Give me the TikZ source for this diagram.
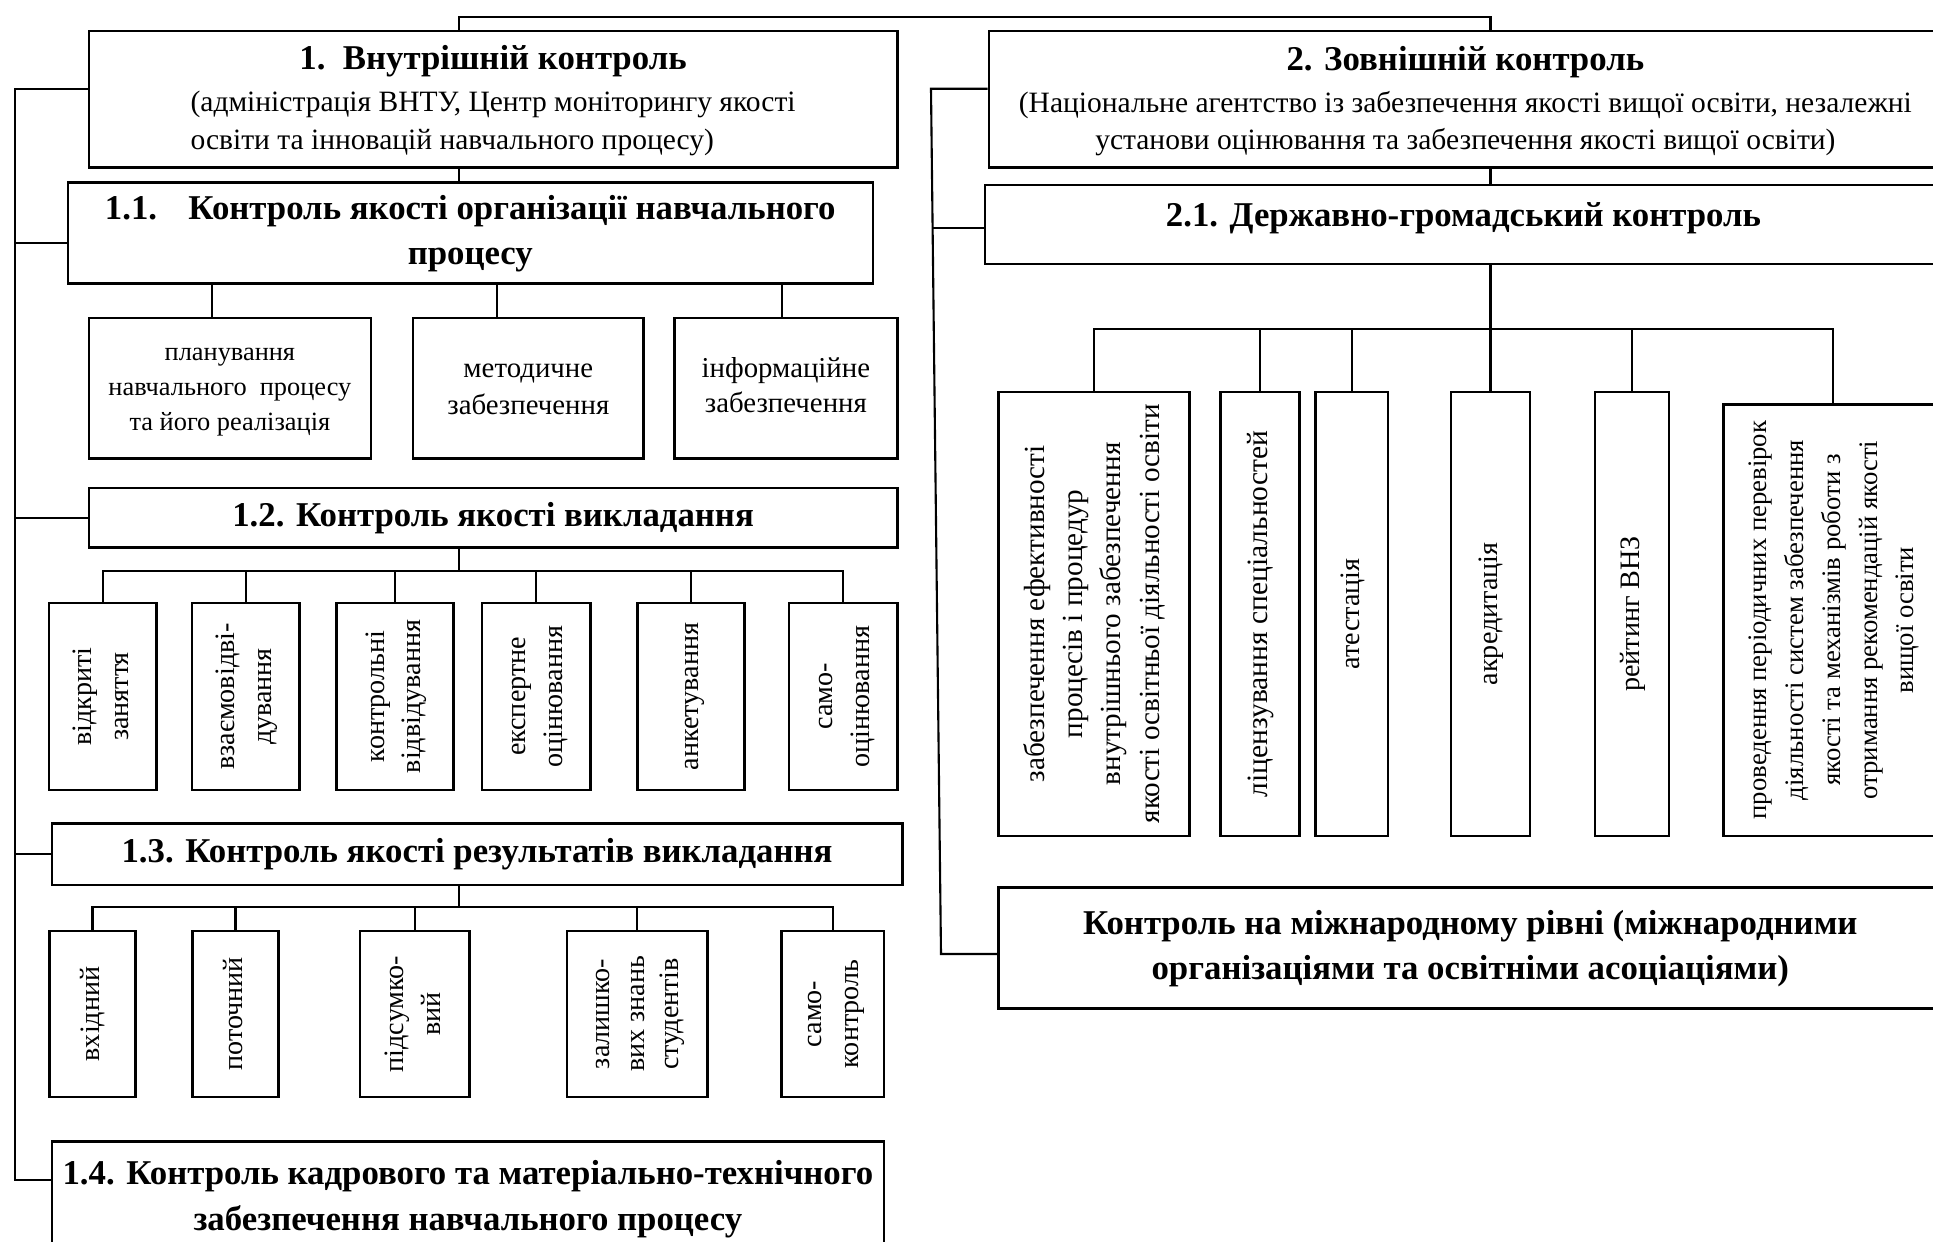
\documentclass[tikz,border=0pt]{standalone}
\usepackage{fontspec}
\setmainfont{Liberation Serif}
\usepackage{tikz}

\newcommand{\vtext}[1]{\rotatebox{90}{\begin{tabular}{@{}c@{}}#1\end{tabular}}}

\begin{document}
\begin{tikzpicture}[
	box/.style={draw, rectangle, line width=0.7pt, inner sep=1pt},
	head/.style={box, font=\bfseries\fontsize{9.9}{13}\selectfont},
	small/.style={box, font=\fontsize{8}{10.5}\selectfont},
	link/.style={line width=0.6pt}]
	\useasboundingbox (0,0) rectangle (19.33,-12.42);
	% internal control
	\node[head, minimum width=8.087cm, minimum height=1.368cm] (int) at (4.931,-0.993) {\begin{tabular}{@{}c@{}} 1.\enspace Внутрішній контроль \\[-1pt] \mdseries\fontsize{8.4}{11}\selectfont\begin{tabular}[t]{@{}l@{}}(адміністрація ВНТУ, Центр моніторингу якості \\ освіти та інновацій навчального процесу)\end{tabular} \end{tabular}};
	\node[head, minimum width=8.05cm, minimum height=1.011cm] (org) at (4.703,-2.33) {\begin{tabular}{@{}c@{}} 1.1.\hspace{0.9em}Контроль якості організації навчального \\ процесу \end{tabular}};
	\node[small, minimum width=2.823cm, minimum height=1.405cm, font=\fontsize{7.5}{10}\selectfont] (plan) at (2.299,-3.883) {\begin{tabular}{@{}c@{}} планування \\ навчального\ \ процесу \\ та його реалізація \end{tabular}};
	\node[small, minimum width=2.305cm, minimum height=1.405cm, font=\fontsize{8.2}{10.5}\selectfont] (meth) at (5.283,-3.883) {\begin{tabular}{@{}c@{}} методичне \\ забезпечення \end{tabular}};
	\node[small, minimum width=2.231cm, minimum height=1.405cm, font=\fontsize{8.2}{10}\selectfont] (info) at (7.859,-3.883) {\begin{tabular}{@{}c@{}} інформаційне \\ забезпечення \end{tabular}};
	\node[head, minimum width=8.087cm, minimum height=0.592cm] (teach) at (4.931,-5.178) {1.2. Контроль якості викладання};
	\node[small, minimum width=1.073cm, minimum height=1.874cm] (t1) at (1.029,-6.965) {\vtext{відкриті \\ заняття}};
	\node[small, minimum width=1.073cm, minimum height=1.874cm] (t2) at (2.459,-6.965) {\vtext{взаємовідві- \\ дування}};
	\node[small, minimum width=1.171cm, minimum height=1.874cm] (t3) at (3.951,-6.965) {\vtext{контрольні \\ відвідування}};
	\node[small, minimum width=1.085cm, minimum height=1.874cm] (t4) at (5.363,-6.965) {\vtext{експертне \\ оцінювання}};
	\node[small, minimum width=1.073cm, minimum height=1.874cm] (t5) at (6.91,-6.965) {\vtext{анкетування}};
	\node[small, minimum width=1.085cm, minimum height=1.874cm] (t6) at (8.432,-6.965) {\vtext{само- \\ оцінювання}};
	\node[head, minimum width=8.506cm, minimum height=0.616cm] (res) at (4.771,-8.543) {1.3. Контроль якості результатів викладання};
	\node[small, minimum width=0.863cm, minimum height=1.664cm] (s1) at (0.925,-10.14) {\vtext{вхідний}};
	\node[small, minimum width=0.863cm, minimum height=1.664cm] (s2) at (2.355,-10.14) {\vtext{поточний}};
	\node[small, minimum width=1.097cm, minimum height=1.664cm] (s3) at (4.148,-10.14) {\vtext{підсумко- \\ вий}};
	\node[small, minimum width=1.405cm, minimum height=1.664cm, font=\fontsize{8}{9.8}\selectfont] (s4) at (6.374,-10.14) {\vtext{залишко- \\ вих знань \\ студентів}};
	\node[small, minimum width=1.023cm, minimum height=1.664cm] (s5) at (8.328,-10.14) {\vtext{само- \\ контроль}};
	\node[head, minimum width=8.321cm, minimum height=1.134cm] (staff) at (4.679,-11.983) {\begin{tabular}{@{}c@{}} 1.4. Контроль кадрового та матеріально-технічного \\ забезпечення навчального процесу \end{tabular}};
	% external control
	\node[head, minimum width=9.533cm, minimum height=1.368cm] (ext) at (14.654,-0.993) {\begin{tabular}{@{}c@{}} 2. Зовнішній контроль \\[-1pt] \mdseries\fontsize{8.4}{10.5}\selectfont\begin{tabular}[t]{@{}c@{}}(Національне агентство із забезпечення якості вищої освіти, незалежні \\ установи оцінювання та забезпечення якості вищої освіти)\end{tabular} \end{tabular}};
	\node[head, minimum width=9.57cm, minimum height=0.789cm, text depth=0.2cm] (pub) at (14.635,-2.244) {2.1. Державно-громадський контроль};
	\node[small, minimum width=1.911cm, minimum height=4.438cm, font=\fontsize{8.3}{10.9}\selectfont] (g1) at (10.941,-6.139) {\vtext{забезпечення ефективності \\ процесів і процедур \\ внутрішнього забезпечення \\ якості освітньої діяльності освіти}};
	\node[small, minimum width=0.789cm, minimum height=4.438cm, font=\fontsize{8.4}{10.5}\selectfont] (g2) at (12.599,-6.139) {\vtext{ліцензування спеціальностей}};
	\node[small, minimum width=0.727cm, minimum height=4.438cm] (g3) at (13.518,-6.139) {\vtext{атестація}};
	\node[small, minimum width=0.789cm, minimum height=4.438cm] (g4) at (14.905,-6.139) {\vtext{акредитація}};
	\node[small, minimum width=0.74cm, minimum height=4.438cm] (g5) at (16.322,-6.139) {\vtext{рейтинг ВНЗ}};
	\node[small, minimum width=2.185cm, minimum height=4.314cm, font=\fontsize{7.6}{10.5}\selectfont] (g6) at (18.328,-6.201) {\vtext{проведення періодичних перевірок \\ діяльності систем забезпечення \\ якості та механізмів роботи з \\ отримання рекомендацій якості \\ вищої освіти}};
	\node[head, minimum width=9.434cm, minimum height=1.208cm] (intl) at (14.703,-9.48) {\begin{tabular}{@{}c@{}} Контроль на міжнародному рівні (міжнародними \\ організаціями та освітніми асоціаціями) \end{tabular}};
	% connectors
	\coordinate (tl) at (4.586,-0.173);
	\coordinate (tr) at (14.905,-0.173);
	\draw[link] (int.north -| tl) -- (tl) -- (tr) -- (ext.north -| tr);
	\draw[link] (int.south -| tl) -- (org.north -| tl);
	\draw[link] (ext.south -| tr) -- (pub.north -| tr);
	\coordinate (lbus) at (0.148,-0.888);
	\path ([yshift=-1mm]org.west) coordinate (orgw);
	\path ([yshift=1.8mm]staff.west) coordinate (staffw);
	\draw[link] (int.west |- lbus) -- (lbus) |- (staffw);
	\draw[link] (lbus |- orgw) -- (orgw);
	\draw[link] (lbus |- teach.west) -- (teach.west);
	\draw[link] (lbus |- res.west) -- (res.west);
	\coordinate (rtop) at (9.31,-0.888);
	\coordinate (rmid) at (9.325,-2.28);
	\coordinate (rbot) at (9.41,-9.54);
	\draw[link] (ext.west |- rtop) -- (rtop) -- (rbot) -- (intl.west |- rbot);
	\draw[link] (rmid) -- (pub.west |- rmid);
	% 1.1 children
	\path ([xshift=-1.8mm]plan.north) coordinate (plantop);
	\path ([xshift=-3.1mm]meth.north) coordinate (methtop);
	\path ([xshift=-0.4mm]info.north) coordinate (infotop);
	\draw[link] (plantop) -- (plantop |- org.south);
	\draw[link] (methtop) -- (methtop |- org.south);
	\draw[link] (infotop) -- (infotop |- org.south);
	% 1.2 children
	\coordinate (bus12) at (4.586,-5.708);
	\draw[link] (teach.south -| bus12) -- (bus12);
	\draw[link] (t1.north) |- (bus12) -| (t6.north);
	\draw[link] (t2.north) -- (t2.north |- bus12);
	\draw[link] (t3.north) -- (t3.north |- bus12);
	\draw[link] (t4.north) -- (t4.north |- bus12);
	\draw[link] (t5.north) -- (t5.north |- bus12);
	% 1.3 children
	\coordinate (bus13) at (4.586,-9.073);
	\draw[link] (res.south -| bus13) -- (bus13);
	\draw[link] (s1.north) |- (bus13) -| (s5.north);
	\draw[link] (s2.north) -- (s2.north |- bus13);
	\draw[link] (s3.north) -- (s3.north |- bus13);
	\draw[link] (s4.north) -- (s4.north |- bus13);
	% 2.1 children
	\coordinate (bus21) at (14.905,-3.292);
	\draw[link] (pub.south -| bus21) -- (bus21);
	\draw[link] (g1.north) |- (bus21) -| (g6.north);
	\draw[link] (g2.north) -- (g2.north |- bus21);
	\draw[link] (g3.north) -- (g3.north |- bus21);
	\draw[link] (g4.north) -- (g4.north |- bus21);
	\draw[link] (g5.north) -- (g5.north |- bus21);
\end{tikzpicture}
\end{document}
